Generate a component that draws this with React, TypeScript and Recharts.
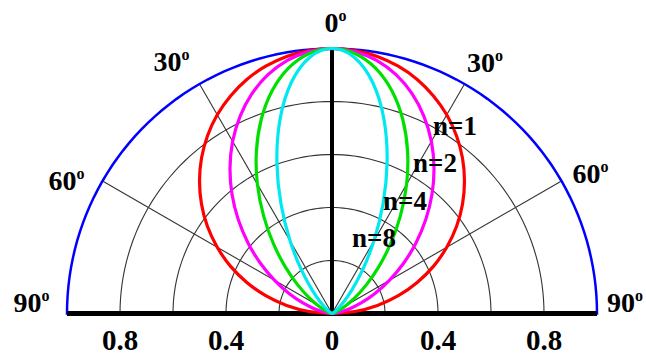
import React from "react";
import { RadarChart, Radar, PolarGrid, PolarAngleAxis, PolarRadiusAxis, Curve } from "recharts";

// Angle off the axis (deg) and relative intensity for each order n.
// Profiles are symmetric, so only 0..90 is listed and mirrored below.
const angles = [0, 5, 10, 15, 20, 25, 30, 35, 40, 45, 50, 55, 60, 65, 70, 75, 80, 85, 90];
const n1 = [1, 0.996, 0.985, 0.966, 0.94, 0.906, 0.866, 0.819, 0.766, 0.707, 0.643, 0.574, 0.5, 0.423, 0.342, 0.259, 0.174, 0.087, 0];
const n2 = [1, 0.992, 0.97, 0.933, 0.883, 0.821, 0.75, 0.671, 0.587, 0.5, 0.413, 0.329, 0.25, 0.179, 0.117, 0.067, 0.03, 0.008, 0];
const n4 = [1, 0.985, 0.941, 0.871, 0.78, 0.675, 0.563, 0.45, 0.344, 0.25, 0.171, 0.108, 0.063, 0.032, 0.014, 0.004, 0.001, 0, 0];
const n8 = [1, 0.97, 0.885, 0.758, 0.608, 0.455, 0.316, 0.203, 0.118, 0.063, 0.029, 0.012, 0.004, 0.001, 0, 0, 0, 0, 0];

const series = [
  { key: "n1", label: "n=1", values: n1, color: "#ff0000" },
  { key: "n2", label: "n=2", values: n2, color: "#ff00ff" },
  { key: "n4", label: "n=4", values: n4, color: "#00e000" },
  { key: "n8", label: "n=8", values: n8, color: "#00e8f0" },
];

const ringValues = [0.2, 0.4, 0.6, 0.8];
const spokeAngles = [-60, -30, 30, 60];
const radiusLabels = [-0.8, -0.4, 0, 0.4, 0.8];

// chart geometry
const W = 646;
const H = 356;
const CX = 332;
const CY = 313.5;
const R = 265;
const FONT = "Liberation Serif, Times New Roman, serif";

// data angle (0 = up, +90 = right) -> recharts polar degrees
const toPolar = (a: number) => 90 - a;

const table = [
  ...angles.slice(1).reverse().map((a) => -a),
  ...angles,
].map((a) => {
  const i = angles.indexOf(Math.abs(a));
  const row: Record<string, number> = { angle: a };
  series.forEach((s) => (row[s.key] = s.values[i]));
  return row;
});

const arcAngles = Array.from({ length: 91 }, (_, i) => i * 2);

// label placement: number centre x and baseline y
const degreeLabels = [
  { text: "90", x: 27.5, y: 312 },
  { text: "60", x: 62.5, y: 190 },
  { text: "30", x: 167.5, y: 71 },
  { text: "0", x: 331.5, y: 32 },
  { text: "30", x: 481, y: 72 },
  { text: "60", x: 586.5, y: 183 },
  { text: "90", x: 621, y: 312 },
];

const curveLabels = [
  { text: "n=1", x: 433, y: 135 },
  { text: "n=2", x: 413, y: 172 },
  { text: "n=4", x: 383, y: 210 },
  { text: "n=8", x: 352, y: 247 },
];

function Labels() {
  const fs = 28;
  return (
    <svg width={W} height={H} style={{ position: "absolute", left: 0, top: 0, pointerEvents: "none" }}>
      <g style={{ fontFamily: FONT, fontWeight: 700 }} fill="#000">
        {degreeLabels.map((d, i) => (
          <text key={i} x={d.x - d.text.length * 0.25 * fs} y={d.y} fontSize={fs}>
            {d.text}
            <tspan fontSize={16} dy={-11}>o</tspan>
          </text>
        ))}
        {radiusLabels.map((v, i) => (
          <text key={"r" + i} x={CX + v * R} y={350} fontSize={29} textAnchor="middle">
            {Math.abs(v) === 0 ? "0" : Math.abs(v).toFixed(1)}
          </text>
        ))}
        {curveLabels.map((c) => (
          <text key={c.text} x={c.x} y={c.y} fontSize={27}>
            {c.text}
          </text>
        ))}
      </g>
    </svg>
  );
}

export default function App() {
  return (
    <div style={{ position: "absolute", left: 0, top: 0, width: W, height: H, background: "#fff" }}>
      <RadarChart
        width={W}
        height={H}
        data={table}
        cx={CX}
        cy={CY}
        innerRadius={0}
        outerRadius={R}
        startAngle={180}
        endAngle={0}
        margin={{ top: 0, right: 0, bottom: 0, left: 0 }}
      >
        <PolarAngleAxis dataKey="angle" type="number" domain={[-90, 90]} tick={false} axisLine={false} tickLine={false} />
        <PolarRadiusAxis type="number" domain={[0, 1]} tick={false} axisLine={false} tickLine={false} />
        {/* thin rings and spokes */}
        <PolarGrid
          gridType="polygon"
          polarAngles={arcAngles}
          polarRadius={ringValues.map((v) => v * R)}
          radialLines={false}
          stroke="#333"
          strokeWidth={1.1}
        />
        <PolarGrid
          gridType="polygon"
          polarAngles={spokeAngles.map(toPolar)}
          polarRadius={[]}
          stroke="#333"
          strokeWidth={1.1}
        />
        {/* outer unit circle */}
        <PolarGrid
          gridType="polygon"
          polarAngles={arcAngles}
          polarRadius={[R]}
          radialLines={false}
          stroke="#0000ff"
          strokeWidth={2.5}
        />
        {series.map((s) => (
          <Radar
            key={s.key}
            dataKey={s.key}
            stroke={s.color}
            fill="none"
            dot={false}
            isAnimationActive={false}
            shape={(p: any) => (
              <Curve points={p.points} type="natural" stroke={s.color} strokeWidth={3.2} fill="none" />
            )}
          />
        ))}
        {/* baseline and 0° axis */}
        <PolarGrid gridType="polygon" polarAngles={[0, 180]} polarRadius={[]} stroke="#000" strokeWidth={5} />
        <PolarGrid gridType="polygon" polarAngles={[90]} polarRadius={[]} stroke="#000" strokeWidth={4} />
      </RadarChart>
      <Labels />
    </div>
  );
}
